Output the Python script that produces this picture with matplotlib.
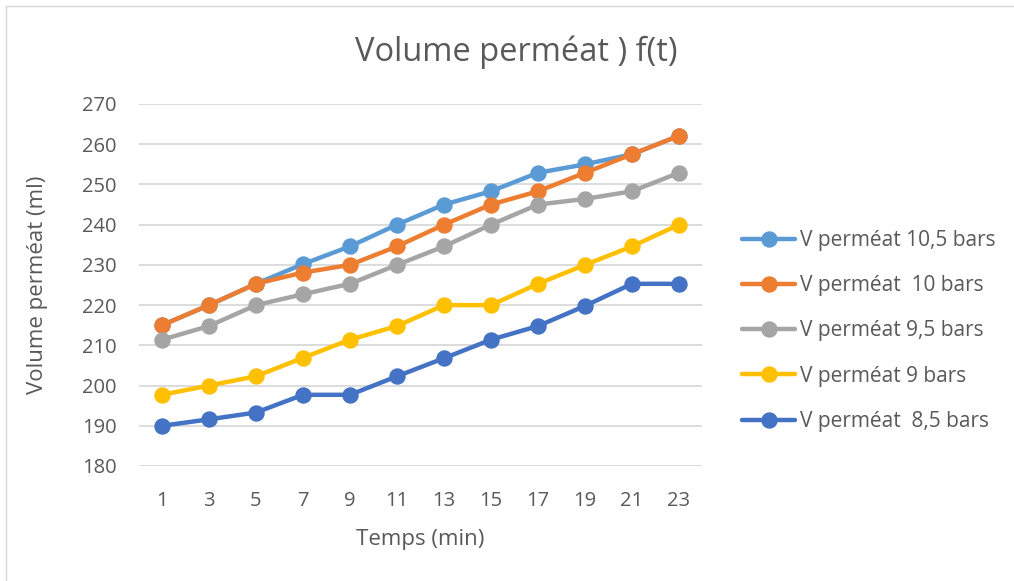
import matplotlib.pyplot as plt
from matplotlib.lines import Line2D

plt.rcParams['font.family'] = ['Open Sans', 'DejaVu Sans']

# Data
temps = ['1', '3', '5', '7', '9', '11', '13', '15', '17', '19', '21', '23']
v_10_5 = [215, 220, 225.3, 230.2, 234.6, 240, 245, 248.3, 252.9, 255, 257.5, 262.1]
v_10 = [215, 220, 225.3, 228.1, 230, 234.6, 240, 245, 248.3, 252.9, 257.5, 262.1]
v_9_5 = [211.4, 214.8, 220, 222.7, 225.3, 230, 234.6, 240, 245, 246.4, 248.3, 252.9]
v_9 = [197.7, 200, 202.3, 206.9, 211.4, 214.8, 220, 220, 225.3, 230, 234.6, 240]
v_8_5 = [190, 191.6, 193.3, 197.7, 197.7, 202.3, 206.8, 211.4, 214.8, 219.8, 225.3, 225.3]

series = [
    ('V perméat 10,5 bars', v_10_5, '#5B9BD5'),
    ('V perméat  10 bars', v_10, '#ED7D31'),
    ('V perméat 9,5 bars', v_9_5, '#A5A5A5'),
    ('V perméat 9 bars', v_9, '#FFC000'),
    ('V perméat  8,5 bars', v_8_5, '#4472C4'),
]

text_col = '#595959'
W, H = 1014, 581
fig = plt.figure(figsize=(W / 100, H / 100), dpi=100)
ax = fig.add_axes([138.5 / W, 1 - 466 / H, (702.5 - 138.5) / W, (466 - 104) / H])

x = range(len(temps))
handles = []
for label, vals, col in series:
    ln, = ax.plot(x, vals, color=col, lw=3.2, marker='o', ms=10.8, label=label, solid_capstyle='round')
    handles.append(ln)

ax.set_xlim(-0.5, len(temps) - 0.5)
ax.set_ylim(180, 270)
ax.set_yticks(range(180, 271, 10))
ax.set_xticks(list(x))
ax.set_xticklabels(temps)
ax.tick_params(axis='both', length=0, labelsize=14.5, colors=text_col)
ax.tick_params(axis='y', pad=15.5)
ax.tick_params(axis='x', pad=18)
ax.grid(axis='y', color='#D9D9D9', lw=1.3)
ax.set_axisbelow(True)
for s in ax.spines.values():
    s.set_visible(False)

ax.set_xlabel('Temps (min)', fontsize=16, color=text_col, labelpad=13)
ax.set_ylabel('Volume perméat (ml)', fontsize=16, color=text_col, labelpad=25)
fig.text(516 / W, 1 - 52 / H, 'Volume perméat ) f(t)', fontsize=23.5, color=text_col,
         ha='center', va='center')

leg = fig.legend(handles=handles, loc='center left', bbox_to_anchor=(742 / W, 1 - 331 / H),
                 bbox_transform=fig.transFigure, frameon=False, fontsize=15,
                 handlelength=2.55, handletextpad=0.24, labelspacing=1.16,
                 borderpad=0, borderaxespad=0)
for t in leg.get_texts():
    t.set_color(text_col)

# chart area border (left and top edges visible)
fig.add_artist(Line2D([6 / W, 6 / W], [0, 1 - 6 / H], color='#D9D9D9', lw=1))
fig.add_artist(Line2D([6 / W, 1], [1 - 6 / H, 1 - 6 / H], color='#D9D9D9', lw=1))

fig.savefig('out.png', dpi=100)
